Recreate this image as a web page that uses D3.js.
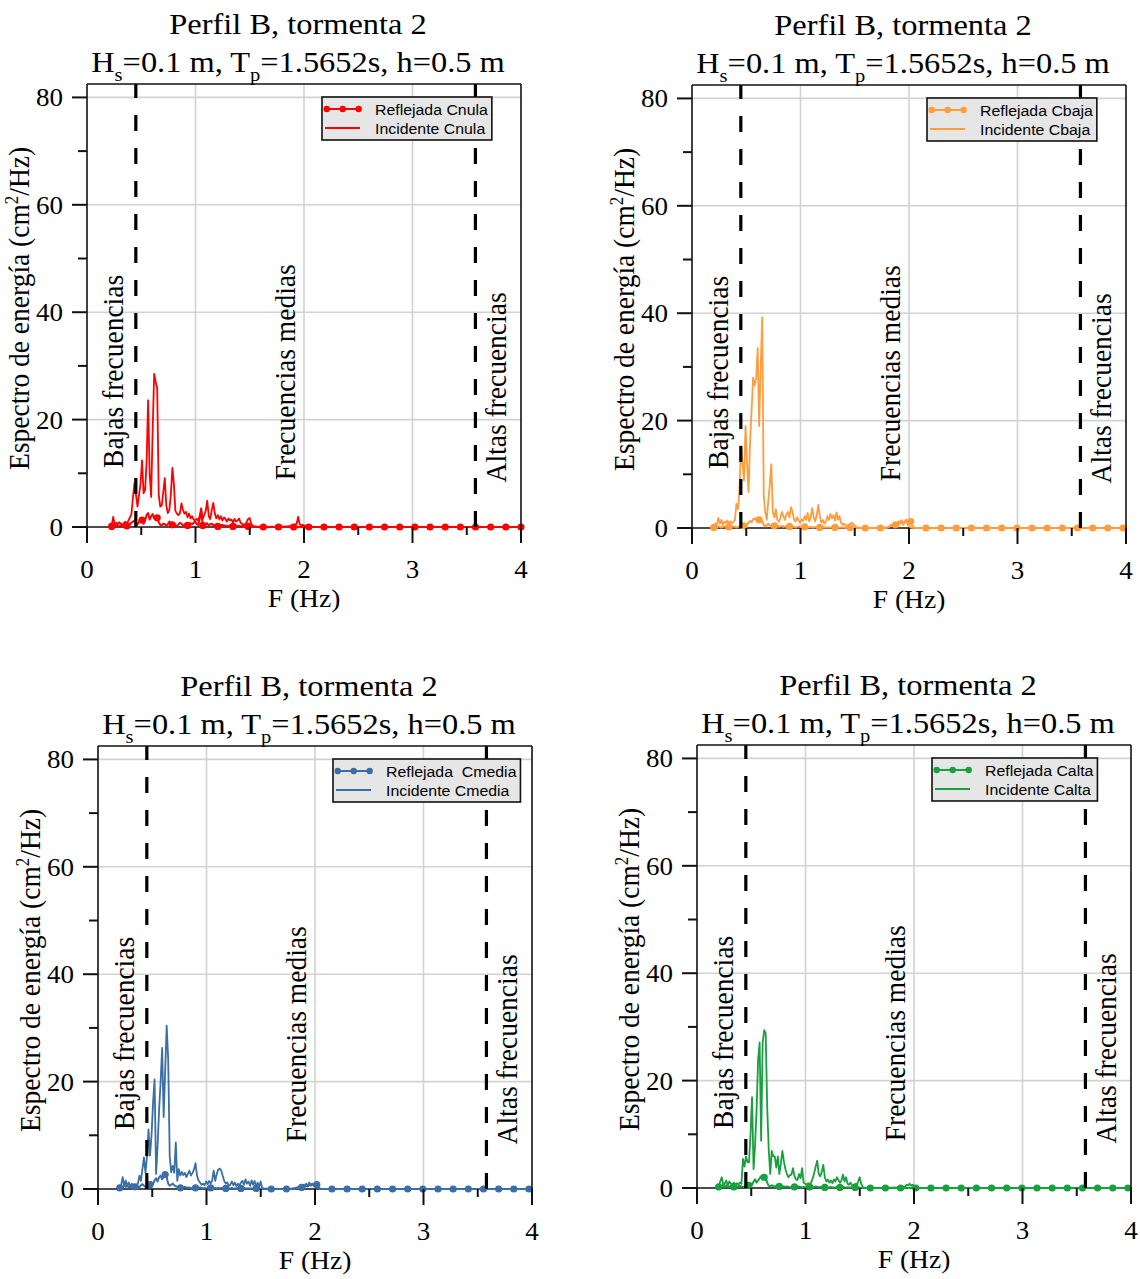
<!DOCTYPE html>
<html><head><meta charset="utf-8">
<script src="https://cdn.jsdelivr.net/npm/d3@7"></script>
<style>
html,body{margin:0;padding:0;background:#fff;}
svg{display:block;}
</style></head><body>
<svg id="chart" width="1140" height="1279"></svg>
<script>
// ---- frequency grid of the spectra (FFT bins) ----
const freqStart = 0.2, freqStep = 0.01397;
const xTicks = [0, 1, 2, 3, 4];
const xMinorTicks = [0.5, 1.5, 2.5, 3.5];
const yTicks = [0, 20, 40, 60, 80];
const yMinorTicks = [10, 30, 50, 70];
const bandLimits = [0.45, 3.58];
const bandLabels = ["Bajas frecuencias", "Frecuencias medias", "Altas frecuencias"];
const bandLabelFreq = [0.33, 1.92, 3.86];
const bandLabelVal = [11, 8.7, 8.3];
const titleLine1 = "Perfil B, tormenta 2";
const xLabel = "F (Hz)";

// ---- Cnula ----
const incNula = [
 0.3,0.5,0.4,1.9,0.4,0.8,0.5,0.9,0.6,0.4,
 0.7,1.0,0.6,1.2,1.8,2.4,5.5,8.2,6.0,3.8,
 6.0,8.0,12.4,6.3,6.9,12.0,23.6,10.0,5.6,18.0,
 28.5,27.0,25.8,6.0,3.8,4.0,6.5,9.1,4.0,2.6,
 3.2,6.0,11.0,8.0,3.0,2.5,2.2,2.6,4.4,3.2,
 2.5,2.8,1.8,2.5,1.6,2.0,1.4,1.2,1.5,1.2,
 2.0,3.5,1.5,2.2,3.0,4.9,2.0,1.5,3.2,4.5,
 2.5,1.6,2.2,1.4,2.0,1.2,1.8,1.5,1.0,1.6,
 1.2,1.4,0.8,1.5,1.0,1.2,1.6,0.8,0.6,0.4,
 0.5,0.9,1.5,1.7,0.6,0.2,0.1,0.1,0.05,0.05,
 0.05,0.03,0.05,0.04,0.05,0.03,0.04,0.05,0.06,0.04,
 0.05,0.04,0.06,0.05,0.08,0.1,0.08,0.12,0.1,0.15,
 0.2,0.3,0.25,0.5,0.6,1.9,0.5,0.3,0.4,0.2,
 0.3,0.1,0.05,0.03,0.02,0.02,0.01,0.01,0.01,0.01
];
const refNula = [
 0.2,0.3,0.1,0.4,0.2,0.3,0.2,0.1,0.3,0.2,
 0.1,0.3,0.2,0.4,0.5,0.8,1.0,1.2,0.8,0.5,
 1.0,1.6,1.3,0.6,1.2,2.2,2.6,1.4,2.0,2.4,
 1.6,1.8,1.7,0.9,0.4,0.3,0.6,0.5,0.3,0.5,
 1.0,0.8,0.4,0.6,0.3,0.2,0.5,0.8,0.6,0.3,
 0.4,0.6,0.3,0.4,0.7,0.5,0.8,1.0,0.6,0.4,
 1.5,3.0,0.3,0.5,0.4,0.7,0.3,0.5,0.6,0.3,
 0.4,0.2,0.1,0.3,0.2,0.4,0.2,0.3,0.1,0.2,
 0.3,0.2,0.1,0.2,0.3,0.1,0.2,0.1,0.2,0.1,
 0.1,0.2,0.1,0.1,0.05,0.05,0.03,0.02,0.02,0.01,
 0,0,0,0,0,0,0,0,0,0, 0,0,0,0,0,0,0,0,0,0, 0,0,0,0,0,0,0,0,0,0,
 0,0,0,0,0,0,0,0,0,0, 0,0,0,0,0,0,0,0,0,0, 0,0,0,0,0,0,0,0,0,0,
 0,0,0,0,0,0,0,0,0,0, 0,0,0,0,0,0,0,0,0,0, 0,0,0,0,0,0,0,0,0,0,
 0,0,0,0,0,0,0,0,0,0, 0,0,0,0,0,0,0,0,0,0, 0,0,0,0,0,0,0,0,0,0,
 0,0,0,0,0,0,0,0,0,0, 0,0,0,0,0,0,0,0,0,0, 0,0,0,0,0,0,0,0,0,0,
 0,0,0,0,0,0,0,0,0,0, 0,0,0,0,0,0,0,0,0,0,
 0,0,0
];

// ---- Cbaja ----
const incBaja = [
 0.3,0.8,0.5,1.9,0.8,1.5,0.6,1.2,0.9,1.4,
 0.8,1.2,0.9,1.1,1.5,4.5,3.5,7.0,15.3,12.0,
 8.8,19.0,12.0,6.7,16.0,22.0,28.0,26.5,28.0,33.5,
 19.0,30.0,39.2,6.0,3.0,1.5,5.0,8.0,11.9,3.0,
 2.0,3.5,1.5,1.2,1.8,3.0,2.2,1.5,2.5,3.0,
 2.0,3.9,3.0,1.5,1.2,2.0,1.4,1.0,1.6,1.3,
 2.2,1.5,2.8,1.2,2.0,3.7,2.0,1.2,2.5,4.3,
 2.2,1.0,1.5,0.8,1.2,2.2,1.5,2.6,1.8,2.4,
 1.4,2.9,1.5,2.2,1.0,0.6,0.8,0.5,0.4,0.6,
 0.8,1.0,0.8,0.4,0.2,0.1,0.05,0.05,0.04,0.05,
 0.03,0.04,0.05,0.03,0.04,0.05,0.04,0.03,0.05,0.04,
 0.05,0.05,0.06,0.08,0.1,0.15,0.3,0.6,0.4,0.8,
 1.0,0.5,1.2,0.8,1.4,0.6,0.9,1.5,0.6,0.3,
 0.1,0.05,0.02,0.02,0.01,0.01,0.01,0.01,0.01,0.01
];
const refBaja = [
 0.1,0.2,0.1,0.3,0.2,0.1,0.2,0.3,0.2,0.1,
 0.2,0.1,0.2,0.3,0.2,0.1,0.2,0.3,0.5,0.2,
 0.4,0.8,0.6,1.0,1.3,1.1,1.6,1.8,1.5,2.0,
 1.5,1.8,1.2,0.6,0.3,0.5,0.8,0.5,0.3,0.6,
 0.4,0.3,0.5,0.2,0.3,0.4,0.2,0.3,0.2,0.4,
 0.3,0.2,0.3,0.2,0.1,0.2,0.3,0.2,0.1,0.2,
 0.2,0.1,0.2,0.1,0.2,0.1,0.1,0.2,0.1,0.1,
 0.1,0.1,0.2,0.1,0.1,0.1,0.1,0.1,0.1,0.1,
 0.1,0.1,0.1,0.1,0.1,0.1,0.1,0.05,0.05,0.05,
 0.05,0.03,0.02,0.02,0.01,0.01,0.01,0.01,0.01,0.01,
 0,0,0,0,0,0,0,0,0,0,
 0,0,0,0,0.05,0.1,0.3,0.5,0.4,0.7,
 0.6,0.9,1.2,0.8,1.4,1.0,1.2,1.5,1.0,1.3,
 1.2,0.4,0.1,0,0,0,0,0,0,0,
 0,0,0,0,0,0,0,0,0,0, 0,0,0,0,0,0,0,0,0,0, 0,0,0,0,0,0,0,0,0,0,
 0,0,0,0,0,0,0,0,0,0, 0,0,0,0,0,0,0,0,0,0, 0,0,0,0,0,0,0,0,0,0,
 0,0,0,0,0,0,0,0,0,0, 0,0,0,0,0,0,0,0,0,0, 0,0,0,0,0,0,0,0,0,0,
 0,0,0,0,0,0,0,0,0,0, 0,0,0,0,0,0,0,0,0,0, 0,0,0,0,0,0,0,0,0,0,
 0,0,0,0,0,0,0,0,0,0,
 0,0,0
];

// ---- Cmedia ----
const incMedia = [
 0.3,0.8,2.2,0.5,1.6,0.6,1.2,0.4,1.0,0.5,
 0.8,0.6,1.0,2.5,1.5,3.7,5.9,3.0,6.0,11.1,
 6.2,10.0,16.0,20.4,2.8,8.0,14.8,20.0,26.3,13.4,
 22.0,30.4,24.0,6.0,3.1,4.3,3.0,8.7,1.5,3.7,
 2.5,3.2,2.6,3.0,2.2,2.8,3.4,2.5,3.0,3.6,
 4.8,2.5,1.6,1.2,0.8,1.0,0.7,1.4,0.9,1.5,
 1.0,1.6,3.4,1.5,2.8,3.6,3.8,3.4,2.4,1.5,
 1.0,1.2,0.6,0.8,1.4,0.7,1.2,0.5,1.0,0.6,
 1.2,1.5,0.8,1.8,1.0,1.4,0.6,1.6,0.8,1.5,
 0.4,1.2,0.3,1.4,0.2,0.1,0.05,0.05,0.04,0.05,
 0.04,0.05,0.03,0.04,0.05,0.04,0.03,0.05,0.04,0.05,
 0.05,0.06,0.05,0.08,0.1,0.15,0.2,0.3,0.2,0.5,
 0.3,0.8,0.6,1.0,0.5,1.2,0.8,1.0,0.6,0.8,
 0.3,0.1,0.05,0.02,0.01,0.01,0.01,0.01,0.01,0.01
];
const refMedia = [
 0.2,0.5,0.3,0.8,0.4,0.6,0.3,0.5,0.2,0.6,
 0.4,0.8,0.5,0.3,0.7,0.9,0.6,0.4,0.3,0.6,
 0.8,1.2,0.9,1.6,2.0,1.4,2.2,2.5,1.8,2.3,
 2.7,2.2,1.0,0.6,0.8,1.0,0.7,0.5,0.4,0.3,
 0.2,0.3,0.2,0.4,0.3,0.2,0.3,0.1,0.2,0.3,
 0.2,0.1,0.2,0.3,0.2,0.1,0.2,0.1,0.2,0.1,
 0.2,0.3,0.1,0.2,0.1,0.2,0.1,0.2,0.1,0.1,
 0.1,0.2,0.1,0.1,0.2,0.1,0.1,0.1,0.2,0.1,
 0.1,0.1,0.2,0.1,0.1,0.1,0.1,0.1,0.1,0.1,
 0.1,0.1,0.05,0.05,0.03,0.02,0.02,0.01,0.01,0.01,
 0,0,0,0,0,0,0,0,0,0,
 0,0,0,0,0,0.05,0.1,0.2,0.3,0.2,
 0.3,0.5,0.4,0.6,0.5,0.8,0.6,0.9,0.7,1.0,
 0.8,0.3,0.1,0,0,0,0,0,0,0,
 0,0,0,0,0,0,0,0,0,0, 0,0,0,0,0,0,0,0,0,0, 0,0,0,0,0,0,0,0,0,0,
 0,0,0,0,0,0,0,0,0,0, 0,0,0,0,0,0,0,0,0,0, 0,0,0,0,0,0,0,0,0,0,
 0,0,0,0,0,0,0,0,0,0, 0,0,0,0,0,0,0,0,0,0, 0,0,0,0,0,0,0,0,0,0,
 0,0,0,0,0,0,0,0,0,0, 0,0,0,0,0,0,0,0,0,0, 0,0,0,0,0,0,0,0,0,0,
 0,0,0,0,0,0,0,0,0,0,
 0,0,0
];

// ---- Calta ----
const incAlta = [
 0.3,1.2,2.0,0.6,0.8,1.4,0.5,1.2,0.8,0.6,
 1.0,0.7,0.9,0.6,1.0,0.8,5.4,4.0,5.9,4.8,
 4.8,10.0,16.9,3.5,8.0,14.6,24.0,27.1,8.8,27.0,
 29.4,28.8,15.0,7.2,2.6,6.9,5.9,5.9,3.8,5.9,
 2.6,4.5,6.9,5.0,3.5,2.6,2.0,2.4,2.5,3.7,
 2.2,1.6,1.5,2.6,1.8,3.7,1.0,0.8,0.6,0.9,
 0.7,1.0,1.8,2.8,4.0,5.1,2.6,2.2,3.0,4.3,
 2.0,1.2,1.6,1.0,1.4,0.9,1.6,1.2,2.0,1.5,
 1.0,1.4,2.5,1.2,2.0,0.8,0.6,1.0,0.5,0.4,
 0.8,0.6,1.2,2.0,0.8,0.2,0.05,0.05,0.04,0.05,
 0.03,0.04,0.05,0.03,0.04,0.05,0.04,0.03,0.05,0.04,
 0.05,0.05,0.06,0.05,0.08,0.1,0.08,0.1,0.12,0.15,
 0.2,0.3,0.2,0.3,0.6,0.5,0.8,0.4,0.6,0.2,
 0.1,0.05,0.02,0.02,0.01,0.01,0.01,0.01,0.01,0.01
];
const refAlta = [
 0.2,0.4,0.3,0.6,0.2,0.5,0.3,0.2,0.4,0.3,
 0.2,0.5,0.3,0.2,0.4,0.3,0.2,0.3,0.6,0.4,
 0.5,0.8,0.6,1.2,1.6,1.0,1.4,1.8,2.2,1.6,
 2.0,1.8,1.0,0.4,0.3,0.5,0.4,0.2,0.4,0.6,
 0.3,0.4,0.2,0.3,0.2,0.3,0.2,0.1,0.2,0.3,
 0.2,0.1,0.2,0.3,0.2,0.1,0.2,0.1,0.2,0.1,
 0.2,0.3,0.1,0.2,0.3,0.2,0.1,0.2,0.1,0.1,
 0.1,0.2,0.1,0.1,0.2,0.1,0.1,0.1,0.2,0.1,
 0.1,0.1,0.2,0.1,0.1,0.1,0.1,0.1,0.1,0.1,
 0.1,0.1,0.05,0.05,0.03,0.02,0.02,0.01,0.01,0.01,
 0,0,0,0,0,0,0,0,0,0, 0,0,0,0,0,0,0,0,0,0, 0,0,0,0,0,0,0,0,0,0,
 0,0,0,0,0,0,0,0,0,0, 0,0,0,0,0,0,0,0,0,0, 0,0,0,0,0,0,0,0,0,0,
 0,0,0,0,0,0,0,0,0,0, 0,0,0,0,0,0,0,0,0,0, 0,0,0,0,0,0,0,0,0,0,
 0,0,0,0,0,0,0,0,0,0, 0,0,0,0,0,0,0,0,0,0, 0,0,0,0,0,0,0,0,0,0,
 0,0,0,0,0,0,0,0,0,0, 0,0,0,0,0,0,0,0,0,0, 0,0,0,0,0,0,0,0,0,0,
 0,0,0,0,0,0,0,0,0,0, 0,0,0,0,0,0,0,0,0,0,
 0,0,0
];

// ---- layout / style ----
const panels = [
  {inc: incNula,  ref: refNula,  refName: "Reflejada Cnula",   incName: "Incidente Cnula",  color: "#ff0000", left: 87,  top: 84,  mk: 2},
  {inc: incBaja,  ref: refBaja,  refName: "Reflejada Cbaja",   incName: "Incidente Cbaja",  color: "#ff9d3c", left: 692, top: 85,  mk: 0},
  {inc: incMedia, ref: refMedia, refName: "Reflejada  Cmedia", incName: "Incidente Cmedia", color: "#3b6ea5", left: 98,  top: 746, mk: 0},
  {inc: incAlta,  ref: refAlta,  refName: "Reflejada Calta",   incName: "Incidente Calta",  color: "#17a03d", left: 697, top: 745, mk: 0}
];
const W = 434, H = 443;
const SX = 1.08;
const SERIF = "'Liberation Serif','Times New Roman',serif";
const SANS = "'Liberation Sans',Arial,sans-serif";

const svg = d3.select("#chart");
const x = d3.scaleLinear().domain([0, 4]).range([0, W]);
const y = d3.scaleLinear().domain([0, 82.5]).range([H, 0]);

function stext(parent, px, py, rot, size, family, anchor) {
  const g = parent.append("g")
    .attr("transform", `translate(${px},${py}) scale(${SX},1)` + (rot ? " rotate(-90)" : ""));
  return g.append("text").attr("x", 0).attr("y", 0)
    .attr("font-size", size).attr("font-family", family)
    .attr("text-anchor", anchor).attr("fill", "#000");
}

const toPts = arr => arr.map((v, i) => ({f: freqStart + i * freqStep, v, i}));
const line = d3.line().x(d => x(d.f)).y(d => y(d.v));

panels.forEach(p => {
  const g = svg.append("g").attr("transform", `translate(${p.left},${p.top})`);

  // grid
  g.selectAll(".gx").data(xTicks.slice(1, -1)).enter().append("line")
    .attr("x1", d => x(d)).attr("x2", d => x(d)).attr("y1", 0).attr("y2", H)
    .attr("stroke", "#d2d2d2").attr("stroke-width", 1.6);
  g.selectAll(".gy").data(yTicks.slice(1)).enter().append("line")
    .attr("y1", d => y(d)).attr("y2", d => y(d)).attr("x1", 0).attr("x2", W)
    .attr("stroke", "#d2d2d2").attr("stroke-width", 1.6);

  // bottom axis line (under data)
  g.append("line").attr("x1", 0).attr("x2", W).attr("y1", H).attr("y2", H)
    .attr("stroke", "#111").attr("stroke-width", 1.6);

  const incPts = toPts(p.inc), refPts = toPts(p.ref);
  g.append("path").attr("d", line(incPts)).attr("fill", "none")
    .attr("stroke", p.color).attr("stroke-width", 1.8).attr("stroke-linejoin", "round");
  g.append("path").attr("d", line(refPts)).attr("fill", "none")
    .attr("stroke", p.color).attr("stroke-width", 2).attr("stroke-linejoin", "round");
  g.selectAll(".mk").data(refPts.filter(d => d.i % 10 === p.mk)).enter().append("circle")
    .attr("cx", d => x(d.f)).attr("cy", d => y(d.v)).attr("r", 3.6).attr("fill", p.color);

  // dashed band limits
  bandLimits.forEach(b => {
    g.append("line").attr("x1", x(b)).attr("x2", x(b)).attr("y1", y(0)).attr("y2", 0)
      .attr("stroke", "#000").attr("stroke-width", 3.2).attr("stroke-dasharray", "16,17");
  });

  // frame
  g.append("line").attr("x1", 0).attr("x2", 0).attr("y1", 0).attr("y2", H).attr("stroke", "#111").attr("stroke-width", 1.6);
  g.append("line").attr("x1", W).attr("x2", W).attr("y1", 0).attr("y2", H).attr("stroke", "#111").attr("stroke-width", 1.6);
  g.append("line").attr("x1", 0).attr("x2", W).attr("y1", 0).attr("y2", 0).attr("stroke", "#111").attr("stroke-width", 1.6);

  // ticks
  xTicks.forEach(t => g.append("line").attr("x1", x(t)).attr("x2", x(t)).attr("y1", H).attr("y2", H + 16).attr("stroke", "#111").attr("stroke-width", 2));
  xMinorTicks.forEach(t => g.append("line").attr("x1", x(t)).attr("x2", x(t)).attr("y1", H).attr("y2", H + 8).attr("stroke", "#111").attr("stroke-width", 2));
  yTicks.forEach(t => g.append("line").attr("x1", -15).attr("x2", 0).attr("y1", y(t)).attr("y2", y(t)).attr("stroke", "#111").attr("stroke-width", 2));
  yMinorTicks.forEach(t => g.append("line").attr("x1", -9).attr("x2", 0).attr("y1", y(t)).attr("y2", y(t)).attr("stroke", "#111").attr("stroke-width", 2));

  // tick labels
  xTicks.forEach(t => stext(g, x(t), H + 51, false, 25, SERIF, "middle").text(t));
  yTicks.forEach(t => stext(g, -24, y(t) + 9, false, 25, SERIF, "end").text(t));

  // axis labels
  stext(g, W / 2, H + 80, false, 25.5, SERIF, "middle").text(xLabel);
  const yl = stext(g, -58, H - 57, true, 27.5, SERIF, "start");
  yl.append("tspan").text("Espectro de energía (cm");
  yl.append("tspan").attr("font-size", 17).attr("dy", -10).text("2");
  yl.append("tspan").attr("dy", 10).text("/Hz)");

  // titles
  stext(g, W / 2 - 6, -50, false, 30, SERIF, "middle").text(titleLine1);
  const t2 = stext(g, W / 2 - 6, -12, false, 30, SERIF, "middle");
  t2.append("tspan").text("H");
  t2.append("tspan").attr("font-size", 19).attr("dy", 9).text("s");
  t2.append("tspan").attr("dy", -9).text("=0.1 m, T");
  t2.append("tspan").attr("font-size", 19).attr("dy", 9).text("p");
  t2.append("tspan").attr("dy", -9).text("=1.5652s, h=0.5 m");

  // band labels
  bandLabels.forEach((lab, k) => {
    stext(g, x(bandLabelFreq[k]), y(bandLabelVal[k]), true, 27.5, SERIF, "start").text(lab);
  });

  // legend
  const lg = g.append("g").attr("transform", "translate(235,13)");
  const box = lg.append("rect").attr("x", 0).attr("y", 0).attr("height", 43)
    .attr("fill", "#e6e6e6").attr("stroke", "#111").attr("stroke-width", 1.6);
  const rows = [{name: p.refName, mk: true, cy: 12}, {name: p.incName, mk: false, cy: 31}];
  let maxLen = 0;
  rows.forEach(r => {
    lg.append("line").attr("x1", 3).attr("x2", 38).attr("y1", r.cy).attr("y2", r.cy)
      .attr("stroke", p.color).attr("stroke-width", 2);
    if (r.mk) [4.7, 20.7, 36.7].forEach(cx => lg.append("circle").attr("cx", cx).attr("cy", r.cy).attr("r", 3.2).attr("fill", p.color));
    const t = stext(lg, 53, r.cy + 5.5, false, 14.7, SANS, "start").style("white-space", "pre").text(r.name);
    maxLen = Math.max(maxLen, t.node().getComputedTextLength() * SX);
  });
  box.attr("width", 53 + maxLen + 4);
});
</script>
</body></html>
